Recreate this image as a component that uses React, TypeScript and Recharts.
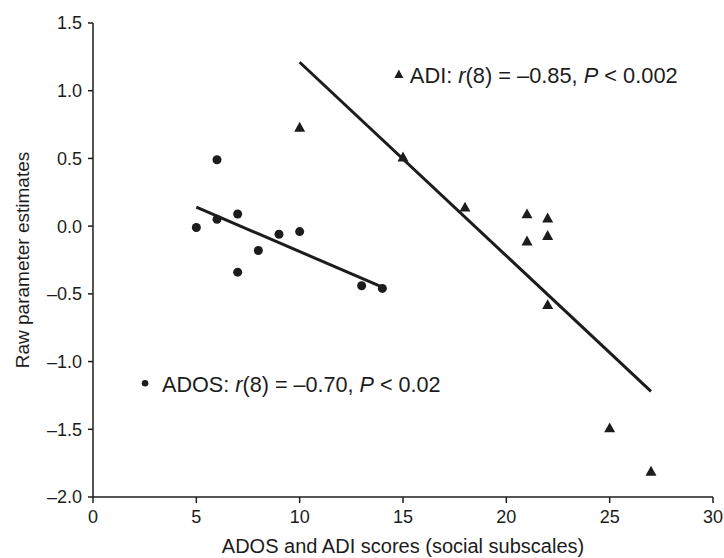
import React from 'react';
import {
  ScatterChart,
  Scatter,
  XAxis,
  YAxis,
  ReferenceLine,
  ReferenceDot,
} from 'recharts';

// ADOS (circles)
const adosScores = [5, 6, 6, 7, 7, 8, 9, 10, 13, 14];
const adosEstimates = [-0.01, 0.49, 0.05, 0.09, -0.34, -0.18, -0.06, -0.04, -0.44, -0.46];

// ADI (triangles)
const adiScores = [10, 15, 18, 21, 21, 22, 22, 22, 25, 27];
const adiEstimates = [0.73, 0.51, 0.14, 0.09, -0.11, 0.06, -0.07, -0.58, -1.49, -1.81];

// regression line end points [score, estimate]
const adosFit = [
  [5, 0.14],
  [14, -0.45],
];
const adiFit = [
  [10, 1.21],
  [27, -1.22],
];

// annotation anchors [score, estimate]
const adiNoteAt = [14.8, 1.12];
const adosNoteAt = [2.52, -1.16];

const xTicks = [0, 5, 10, 15, 20, 25, 30];
const yTicks = [-2, -1.5, -1, -0.5, 0, 0.5, 1, 1.5];

const INK = '#1c1c1c';
const FONT = '"Liberation Sans", Arial, sans-serif';

const adosData = adosScores.map((x, i) => ({ x, y: adosEstimates[i] }));
const adiData = adiScores.map((x, i) => ({ x, y: adiEstimates[i] }));

const fmtY = (v: number) => (v < 0 ? '\u2013' + Math.abs(v).toFixed(1) : v.toFixed(1));

const Dot = (p: any) => <circle cx={p.cx} cy={p.cy} r={4.5} fill={INK} />;

const Tri = (p: any) => {
  const s = 5.5;
  return (
    <polygon
      points={`${p.cx},${p.cy - s} ${p.cx - s},${p.cy + s * 0.8} ${p.cx + s},${p.cy + s * 0.8}`}
      fill={INK}
    />
  );
};

const AdiNote = (p: any) => (
  <g>
    <polygon
      points={`${p.cx},${p.cy - 5} ${p.cx - 4.5},${p.cy + 3.5} ${p.cx + 4.5},${p.cy + 3.5}`}
      fill={INK}
    />
    <text x={p.cx + 11} y={p.cy + 9} fontSize={21.8} fontFamily={FONT} fill={INK}>
      ADI: <tspan fontStyle="italic">r</tspan>(8) = –0.85, <tspan fontStyle="italic">P</tspan> &lt; 0.002
    </text>
  </g>
);

const AdosNote = (p: any) => (
  <g>
    <circle cx={p.cx} cy={p.cy} r={3.3} fill={INK} />
    <text x={p.cx + 17} y={p.cy + 9} fontSize={21.6} fontFamily={FONT} fill={INK}>
      ADOS: <tspan fontStyle="italic">r</tspan>(8) = –0.70, <tspan fontStyle="italic">P</tspan> &lt; 0.02
    </text>
  </g>
);

export default function App() {
  const tick = { fontSize: 18, fontFamily: FONT, fill: INK };
  return (
    <div style={{ position: 'absolute', left: 0, top: 0, background: '#fff' }}>
      <ScatterChart width={724} height={558} margin={{ top: 23, right: 11, bottom: 0, left: 0 }}>
        <XAxis
          type="number"
          dataKey="x"
          domain={[0, 30]}
          ticks={xTicks}
          height={61}
          tick={tick}
          tickSize={6}
          tickMargin={7}
          stroke={INK}
          strokeWidth={1.5}
          label={{
            value: 'ADOS and ADI scores (social subscales)',
            position: 'insideBottom',
            offset: 5,
            fontSize: 20,
            fontFamily: FONT,
            fill: INK,
          }}
        />
        <YAxis
          type="number"
          dataKey="y"
          domain={[-2, 1.5]}
          ticks={yTicks}
          width={93}
          tick={tick}
          tickFormatter={fmtY}
          tickSize={5}
          tickMargin={6}
          stroke={INK}
          strokeWidth={1.5}
          label={{
            value: 'Raw parameter estimates',
            angle: -90,
            position: 'insideLeft',
            offset: 22,
            style: { textAnchor: 'middle' },
            fontSize: 19,
            fontFamily: FONT,
            fill: INK,
          }}
        />
        <ReferenceLine
          segment={adiFit.map(([x, y]) => ({ x, y }))}
          stroke={INK}
          strokeWidth={3}
          ifOverflow="visible"
        />
        <ReferenceLine
          segment={adosFit.map(([x, y]) => ({ x, y }))}
          stroke={INK}
          strokeWidth={3}
          ifOverflow="visible"
        />
        <Scatter data={adosData} shape={Dot} isAnimationActive={false} />
        <Scatter data={adiData} shape={Tri} isAnimationActive={false} />
        <ReferenceDot x={adiNoteAt[0]} y={adiNoteAt[1]} r={4} shape={AdiNote} ifOverflow="visible" />
        <ReferenceDot x={adosNoteAt[0]} y={adosNoteAt[1]} r={4} shape={AdosNote} ifOverflow="visible" />
      </ScatterChart>
    </div>
  );
}
